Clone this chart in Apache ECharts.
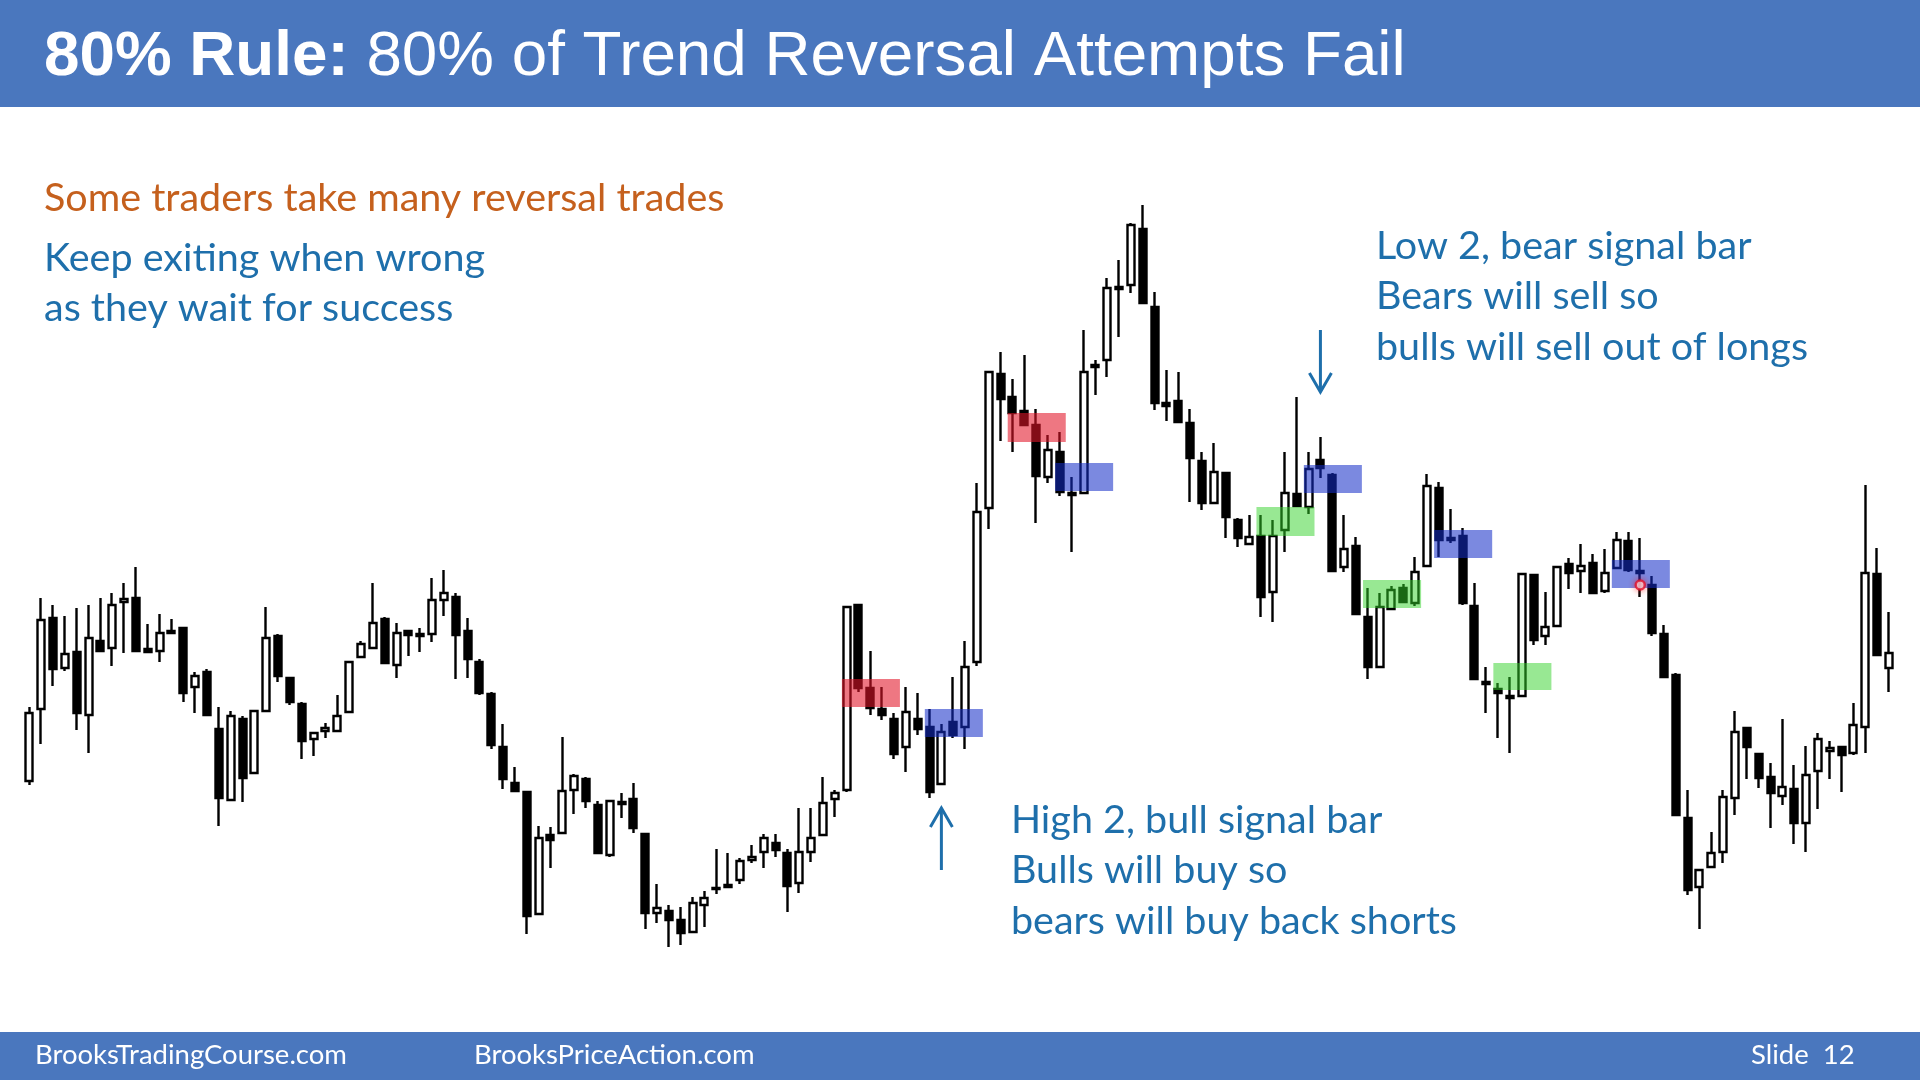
<!DOCTYPE html>
<html><head><meta charset="utf-8">
<script src="https://cdn.jsdelivr.net/npm/echarts@6/dist/echarts.min.js"></script>
<style>html,body{margin:0;padding:0;background:#fff}#c{width:1920px;height:1080px}</style>
</head><body><div id="c"></div>
<script>
// ---- data (price units) ----
const open = [219,291,382,332,348,285,359,352,398,402,351,349,367,372,313,328,271,200,281,227,
289,364,322,296,261,269,269,288,343,352,381,335,369,364,366,400,403,369,338,306,
253,217,208,86,165,167,210,221,195,145,196,201,166,87,89,80,68,95,111,113,
120,140,148,157,147,117,148,165,201,210,395,312,291,281,253,281,273,216,278,273,
338,492,626,603,589,575,523,548,505,507,633,640,711,715,771,693,597,599,577,539,
497,527,480,456,464,408,470,506,493,540,525,433,454,383,333,391,412,397,434,512,
460,464,394,316,311,302,304,425,364,374,436,429,437,409,432,459,429,415,366,325,
182,113,133,148,202,272,246,223,204,211,177,229,249,253,247,273,426,332];
const close = [287,380,331,346,287,362,349,395,401,349,348,367,369,307,324,285,202,284,222,289,
362,324,298,259,267,272,284,338,356,377,337,367,365,366,400,407,365,341,307,255,
221,209,84,162,160,209,224,199,147,199,198,172,87,92,80,67,97,102,112,115,
139,143,162,150,114,148,162,197,207,393,312,292,285,246,288,271,208,268,265,333,
488,628,601,587,575,524,550,508,507,628,635,712,713,775,697,597,594,578,542,497,
528,483,462,463,403,464,507,494,531,532,429,451,386,333,393,410,398,428,514,460,
462,397,321,318,307,304,426,360,373,433,427,434,407,427,460,430,427,367,323,185,
110,130,147,203,268,253,222,207,213,177,225,261,252,245,275,427,345,347];
const low = [215,256,314,329,270,247,348,334,347,348,347,338,366,298,287,285,174,200,198,227,
288,318,295,241,244,262,268,288,342,352,337,322,344,348,358,384,321,322,305,251,
211,209,66,86,132,167,186,192,147,143,182,167,71,77,53,55,68,73,106,113,
116,137,132,143,88,107,138,165,183,208,308,285,280,241,228,265,202,216,262,251,
334,471,559,548,575,477,517,504,448,506,605,623,663,707,697,590,579,578,498,490,
497,462,453,456,383,378,448,493,486,522,429,428,386,321,333,391,397,394,434,443,
457,395,321,287,262,247,303,355,355,373,411,407,407,407,431,428,403,364,323,185,
105,71,133,137,185,221,212,172,195,156,148,191,221,208,245,247,345,308];
const high = [293,402,395,384,392,395,402,407,417,433,376,386,381,373,328,331,293,289,284,289,
393,366,323,298,267,277,305,339,359,417,383,377,369,372,422,430,407,382,341,308,
276,233,208,174,173,263,226,223,199,200,207,217,167,116,95,93,103,109,151,147,
142,155,166,166,151,192,192,223,210,394,396,349,313,287,313,307,291,276,323,359,
517,628,648,621,645,591,565,568,523,670,640,722,740,777,795,708,630,628,591,548,
557,528,482,485,485,480,548,603,548,563,527,485,463,412,407,414,416,443,526,518,
491,472,417,333,317,323,427,426,408,434,442,456,446,451,468,468,462,424,375,327,
210,131,168,210,289,273,247,237,281,235,254,267,259,253,297,515,452,388];
const barNumbers = open.map((_, i) => String(i + 1));

// highlighted signal zones: first bar index (5 bars each), price range, colour
const boxStart = [69, 76, 83, 87, 104, 108, 113, 119, 124, 134];
const boxLow   = [293, 263, 558, 509, 464, 507, 392, 442, 310, 412];
const boxHigh  = [321, 291, 587, 537, 493, 535, 420, 470, 337, 440];
const boxKind  = ['red','blue','red','blue','green','blue','green','blue','green','blue'];
const cursorMark = [[136, 415]];
const downArrow = { index: 109, from: 670, to: 608 };
const upArrow = { index: 77, from: 130, to: 192 };

// ---- text ----
const titleBold = '80% Rule:';
const titleRest = '80% of Trend Reversal Attempts Fail';
const orangeLine = 'Some traders take many reversal trades';
const leftLines = ['Keep exiting when wrong', 'as they wait for success'];
const rightLines = ['Low 2, bear signal bar', 'Bears will sell so', 'bulls will sell out of longs'];
const lowerLines = ['High 2, bull signal bar', 'Bulls will buy so', 'bears will buy back shorts'];
const footer = ['BrooksTradingCourse.com', 'BrooksPriceAction.com', 'Slide  12'];

const boxColors = { red: 'rgba(225,20,40,0.58)', blue: 'rgba(20,45,200,0.56)', green: 'rgba(50,210,40,0.5)' };
const BODY_FONT = 'Lato';
const TITLE_FONT = '"Liberation Sans", Arial';
const BLUE_TXT = '#1E6FAB';

const ctx = document.createElement('canvas').getContext('2d');
function widthAt(text, family, weight, size) { ctx.font = weight + ' ' + size + 'px ' + family; return ctx.measureText(text).width; }
function fitSize(text, family, weight, target) { return 100 * target / widthAt(text, family, weight, 100); }

const bodySize = fitSize(rightLines[2], BODY_FONT, 'normal', 432);
const footSize = fitSize(footer[0], BODY_FONT, 'normal', 312);
const titleSize = 100 * 1362 / (widthAt(titleBold + ' ', TITLE_FONT, 'bold', 100) + widthAt(titleRest, TITLE_FONT, 'normal', 100));
const titleBoldW = widthAt(titleBold + ' ', TITLE_FONT, 'bold', titleSize);

function txt(text, x, y, size, fill, family, weight) {
  return { type: 'text', z: 100, silent: true, style: { text, x, y, fill, font: (weight || 'normal') + ' ' + size + 'px ' + (family || BODY_FONT), align: 'left', textAlign: 'left', verticalAlign: 'middle', textVerticalAlign: 'middle' } };
}

const chart = echarts.init(document.getElementById('c'), null, { renderer: 'canvas' });
const candleData = open.map((o, i) => [o, close[i], low[i], high[i]]);

const option = {
  animation: false,
  backgroundColor: '#ffffff',
  grid: { left: 23.4, width: 1871.5, top: 150, height: 850 },
  xAxis: { type: 'category', data: barNumbers, show: false, boundaryGap: true },
  yAxis: { type: 'value', min: 0, max: 850, show: false },
  series: [
    {
      type: 'candlestick', data: candleData, barWidth: 7.5, silent: true, z: 2,
      itemStyle: { color: '#ffffff', color0: '#000000', borderColor: '#000000', borderColor0: '#000000', borderColorDoji: '#000000', borderWidth: 2.4 }
    },
    {
      type: 'custom', z: 5, silent: true,
      data: boxStart.map((s, i) => [s, boxLow[i], boxHigh[i]]),
      encode: { x: 0, y: [1, 2] },
      renderItem: function (params, api) {
        const i0 = api.value(0);
        const p0 = api.coord([i0, api.value(2)]);
        const p1 = api.coord([i0 + 4, api.value(1)]);
        const bw = api.size([1, 0])[0];
        return { type: 'rect', shape: { x: p0[0] - 0.4 * bw, y: p0[1], width: p1[0] - p0[0] + 0.9 * bw, height: p1[1] - p0[1] },
                 style: { fill: boxColors[boxKind[params.dataIndex]] } };
      }
    },
    {
      type: 'scatter', data: cursorMark, symbolSize: 9, z: 6, silent: true,
      itemStyle: { color: '#ffffff', borderColor: '#e0102a', borderWidth: 2.5, shadowBlur: 6, shadowColor: 'rgba(255,0,0,0.6)' }
    }
  ]
};
chart.setOption(option);

function arrowGraphic(a, pointDown) {
  const top = chart.convertToPixel({ gridIndex: 0 }, [a.index, a.from]);
  const tip = chart.convertToPixel({ gridIndex: 0 }, [a.index, a.to]);
  const dir = pointDown ? -1 : 1;
  const x = tip[0];
  return [
    { type: 'line', z: 50, silent: true, shape: { x1: x, y1: top[1], x2: x, y2: tip[1] }, style: { stroke: BLUE_TXT, lineWidth: 3 } },
    { type: 'polyline', z: 50, silent: true, shape: { points: [[x - 11, tip[1] + dir * 19], [x, tip[1]], [x + 11, tip[1] + dir * 19]] }, style: { stroke: BLUE_TXT, lineWidth: 3, fill: null } }
  ];
}

const lineGap = 50.5;
const graphics = [
  { type: 'rect', z: 90, silent: true, shape: { x: 0, y: 0, width: 1920, height: 107 }, style: { fill: '#4A77BE' } },
  { type: 'rect', z: 90, silent: true, shape: { x: 0, y: 1032, width: 1920, height: 48 }, style: { fill: '#4A77BE' } },
  txt(titleBold, 44, 57, titleSize, '#ffffff', TITLE_FONT, 'bold'),
  txt(titleRest, 44 + titleBoldW, 57, titleSize, '#ffffff', TITLE_FONT, 'normal'),
  txt(orangeLine, 44, 198, bodySize, '#C5601D'),
  txt(leftLines[0], 44, 258, bodySize, BLUE_TXT),
  txt(leftLines[1], 44, 258 + lineGap, bodySize, BLUE_TXT),
  txt(rightLines[0], 1376, 246, bodySize, BLUE_TXT),
  txt(rightLines[1], 1376, 246 + lineGap, bodySize, BLUE_TXT),
  txt(rightLines[2], 1376, 246 + 2 * lineGap, bodySize, BLUE_TXT),
  txt(lowerLines[0], 1011, 820, bodySize, BLUE_TXT),
  txt(lowerLines[1], 1011, 820 + lineGap, bodySize, BLUE_TXT),
  txt(lowerLines[2], 1011, 820 + 2 * lineGap, bodySize, BLUE_TXT),
  txt(footer[0], 35, 1055, footSize, '#ffffff'),
  txt(footer[1], 474, 1055, footSize, '#ffffff'),
  txt(footer[2], 1751, 1055, footSize, '#ffffff')
].concat(arrowGraphic(downArrow, true), arrowGraphic(upArrow, false));

chart.setOption({ graphic: graphics });
</script>
</body></html>
